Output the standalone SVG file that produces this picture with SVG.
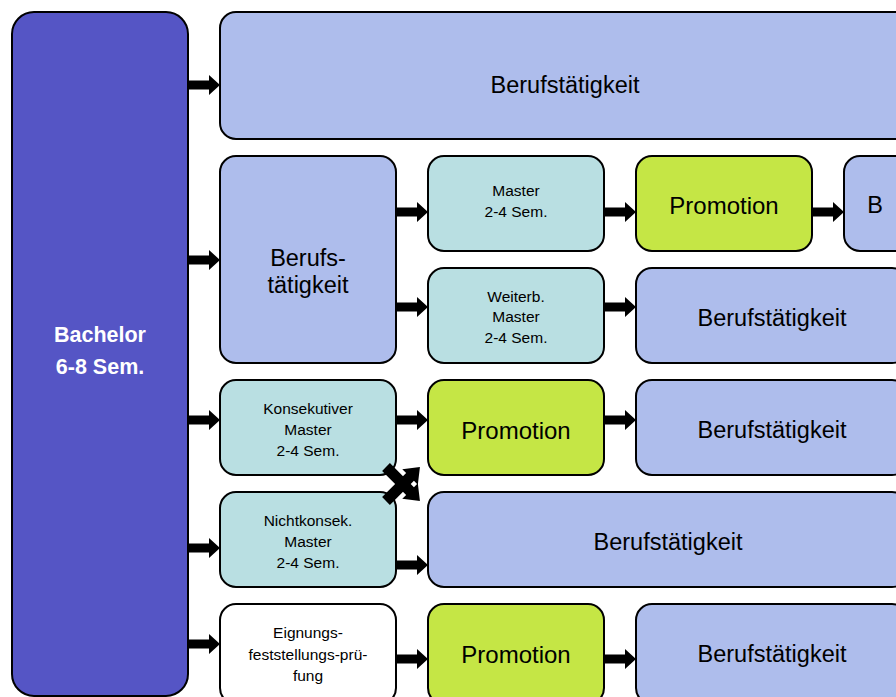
<svg xmlns="http://www.w3.org/2000/svg" xmlns:xlink="http://www.w3.org/1999/xlink" width="896" height="697" viewBox="0 0 896 697">
<style>
rect{stroke:#000;stroke-width:2}
.ba{fill:#5555C5}
.bl{fill:#AEBDEC}
.tl{fill:#B9DFE2}
.gr{fill:#C5E645}
.wh{fill:#FFFFFF}
text{font-family:"Liberation Sans",Arial,sans-serif;text-anchor:middle;dominant-baseline:central;fill:#000}
.s{font-size:15.5px}
.m{font-size:23.5px}
.p{font-size:24px}
.bt{font-size:21.5px;font-weight:bold;fill:#fff}
</style>
<defs>
<path id="arr" d="M0,-4.5 H21 V-10 L32,0 L21,10 V4.5 H0 Z" fill="#000"/>
<path id="xarr" d="M0,-5.5 H34 V-11 L48,0 L34,11 V5.5 H0 Z" fill="#000"/>
</defs>
<g id="bachelor"><rect class="ba" x="12" y="12" width="176" height="684" rx="22"/><text class="bt" x="100" y="335">Bachelor</text><text class="bt" x="100" y="367">6-8 Sem.</text></g>
<g id="beruf1"><rect class="bl" x="220" y="12" width="690" height="127" rx="16"/><text class="m" x="565" y="85">Berufstätigkeit</text></g>
<g id="beruf2"><rect class="bl" x="220" y="156" width="176" height="207" rx="16"/><text class="m" x="308" y="258">Berufs-</text><text class="m" x="308" y="285">tätigkeit</text></g>
<g id="master1"><rect class="tl" x="428" y="156" width="176" height="95" rx="16"/><text class="s" x="516" y="190">Master</text><text class="s" x="516" y="211">2-4 Sem.</text></g>
<g id="promo1"><rect class="gr" x="636" y="156" width="176" height="95" rx="16"/><text class="p" x="724" y="205">Promotion</text></g>
<g id="beruf3"><rect class="bl" x="844" y="156" width="176" height="95" rx="16"/><text class="m" x="875" y="205">B</text></g>
<g id="weiterb"><rect class="tl" x="428" y="268" width="176" height="95" rx="16"/><text class="s" x="516" y="296">Weiterb.</text><text class="s" x="516" y="316">Master</text><text class="s" x="516" y="337">2-4 Sem.</text></g>
<g id="beruf4"><rect class="bl" x="636" y="268" width="272" height="95" rx="16"/><text class="m" x="772" y="318">Berufstätigkeit</text></g>
<g id="konsek"><rect class="tl" x="220" y="380" width="176" height="95" rx="16"/><text class="s" x="308" y="408">Konsekutiver</text><text class="s" x="308" y="429">Master</text><text class="s" x="308" y="450">2-4 Sem.</text></g>
<g id="promo2"><rect class="gr" x="428" y="380" width="176" height="95" rx="16"/><text class="p" x="516" y="430">Promotion</text></g>
<g id="beruf5"><rect class="bl" x="636" y="380" width="272" height="95" rx="16"/><text class="m" x="772" y="430">Berufstätigkeit</text></g>
<g id="nichtkonsek"><rect class="tl" x="220" y="492" width="176" height="95" rx="16"/><text class="s" x="308" y="520">Nichtkonsek.</text><text class="s" x="308" y="541">Master</text><text class="s" x="308" y="562">2-4 Sem.</text></g>
<g id="beruf6"><rect class="bl" x="428" y="492" width="480" height="95" rx="16"/><text class="m" x="668" y="542">Berufstätigkeit</text></g>
<g id="eignung"><rect class="wh" x="220" y="604" width="176" height="100" rx="16"/><text class="s" x="308" y="632">Eignungs-</text><text class="s" x="308" y="654">feststellungs-prü-</text><text class="s" x="308" y="675">fung</text></g>
<g id="promo3"><rect class="gr" x="428" y="604" width="176" height="100" rx="16"/><text class="p" x="516" y="654">Promotion</text></g>
<g id="beruf7"><rect class="bl" x="636" y="604" width="272" height="100" rx="16"/><text class="m" x="772" y="654">Berufstätigkeit</text></g>
<g id="connectors">
<use xlink:href="#arr" x="188" y="85"/>
<use xlink:href="#arr" x="188" y="260"/>
<use xlink:href="#arr" x="188" y="420"/>
<use xlink:href="#arr" x="188" y="548"/>
<use xlink:href="#arr" x="188" y="644"/>
<use xlink:href="#arr" x="396" y="212"/>
<use xlink:href="#arr" x="396" y="307"/>
<use xlink:href="#arr" x="396" y="420"/>
<use xlink:href="#arr" x="396" y="565"/>
<use xlink:href="#arr" x="396" y="659"/>
<use xlink:href="#arr" x="604" y="212"/>
<use xlink:href="#arr" x="604" y="307"/>
<use xlink:href="#arr" x="604" y="420"/>
<use xlink:href="#arr" x="604" y="659"/>
<use xlink:href="#arr" x="812" y="212"/>
<use xlink:href="#xarr" transform="translate(386,467) rotate(45)"/>
<use xlink:href="#xarr" transform="translate(386,501) rotate(-45)"/>
</g>
</svg>
